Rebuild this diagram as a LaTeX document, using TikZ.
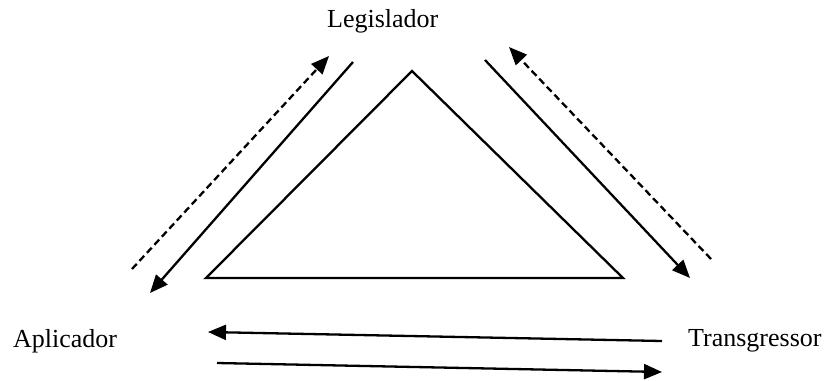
\documentclass[tikz,border=0pt]{standalone}
\usepackage{fontspec}
\setmainfont{Liberation Serif}
\usetikzlibrary{positioning,arrows.meta}

\begin{document}
\begin{tikzpicture}[x=1pt, y=-1pt, line width=2.3pt,
      every node/.style={inner sep=0pt, font=\fontsize{26}{30}\selectfont},
      role/.style={anchor=base west},
      flow/.style={-{Triangle[length=18pt,width=15pt]}},
      reply/.style={flow, dash pattern=on 7pt off 4pt}]
  %.
  \useasboundingbox (0,0) rectangle (826,380);
  \node[role] (legislador) at (326,27) {Legislador};
  \node[role] (aplicador) at (12,347) {Aplicador};
  \node[role] (transgressor) at (687,346) {Transgressor};
  %.
  \coordinate (top) at (412,71);
  \coordinate (left) at (206,278);
  \coordinate (right) at (623,278);
  \draw[line join=miter] (top) -- (left) -- (right) -- cycle;
  %.
  \coordinate (la) at (353,62);  \coordinate (lb) at (150,293);
  \coordinate (lc) at (132,269); \coordinate (ld) at (329,56);
  \coordinate (ra) at (485,60);  \coordinate (rb) at (690,278);
  \coordinate (rc) at (711,259); \coordinate (rd) at (509,47);
  \coordinate (ba) at (662,341); \coordinate (bb) at (208,332);
  \coordinate (bc) at (217,363); \coordinate (bd) at (662,372);
  \draw[flow] (la) -- (lb);
  \draw[reply] (lc) -- (ld);
  \draw[flow] (ra) -- (rb);
  \draw[reply] (rc) -- (rd);
  \draw[flow] (ba) -- (bb);
  \draw[flow] (bc) -- (bd);
  %.
\end{tikzpicture}
\end{document}
